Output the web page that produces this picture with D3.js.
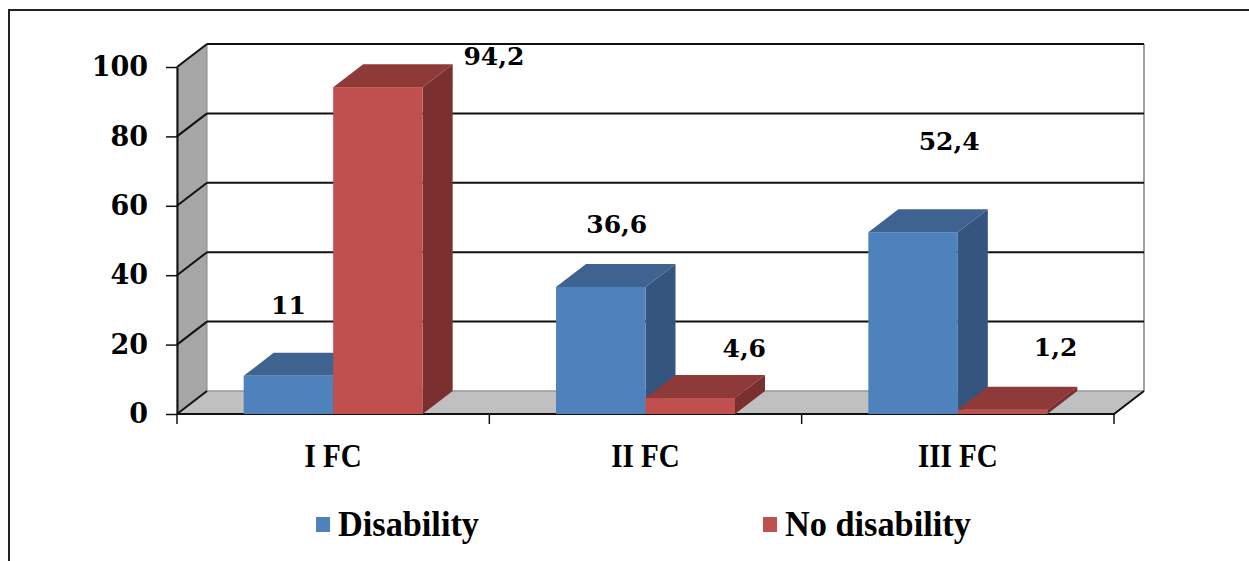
<!DOCTYPE html>
<html>
<head>
<meta charset="utf-8">
<script src="https://cdn.jsdelivr.net/npm/d3@7"></script>
<style>
  body { margin: 0; background: #fff; }
  svg { display: block; }
</style>
</head>
<body>
<div id="chart"></div>
<script>
// Data
const categories = ["I FC", "II FC", "III FC"];
const seriesNames = ["Disability", "No disability"];
const disability = [11, 36.6, 52.4];
const noDisability = [94.2, 4.6, 1.2];
const valueLabels = [["11", "36,6", "52,4"], ["94,2", "4,6", "1,2"]];
const yTicks = [0, 20, 40, 60, 80, 100];

// label nudges (px) relative to bar front-top centre: [series][category]
const labelNudge = [
    [[0, -62], [16, -54], [36, -82]],
    [[116, -22], [54, -41], [53, -54]]
];

const W = 1249, H = 561;
const depth = {dx: 30, dy: -23};
const colors = [
    {front: "#4f81bd", top: "#3e6391", side: "#34557e"},
    {front: "#c0504d", top: "#8e3a38", side: "#7a302f"}
];

const svg = d3.select("#chart").append("svg")
    .attr("width", W).attr("height", H);

// outer frame (top + left only)
svg.append("path")
    .attr("d", "M9,561 L9,10 L1249,10")
    .attr("fill", "none").attr("stroke", "#222").attr("stroke-width", 2);

const x = d3.scaleBand().domain(categories).range([177, 1114]).padding(0);
const xs = d3.scaleBand().domain(seriesNames).range([0, x.bandwidth()]).paddingInner(0).paddingOuter(0.745);
const y = d3.scaleLinear().domain([0, 100]).range([414, 67]);

const x0 = x.range()[0], x1 = x.range()[1];
const y0 = y(0), yTop = y(100);

// left side wall
svg.append("polygon")
    .attr("points", [[x0, y0], [x0, yTop], [x0 + depth.dx, yTop + depth.dy], [x0 + depth.dx, y0 + depth.dy]].join(" "))
    .attr("fill", "#a6a6a6").attr("stroke", "#888").attr("stroke-width", 1);

// floor
svg.append("polygon")
    .attr("points", [[x0, y0], [x1, y0], [x1 + depth.dx, y0 + depth.dy], [x0 + depth.dx, y0 + depth.dy]].join(" "))
    .attr("fill", "#c0c0c0");
svg.append("line")
    .attr("x1", x0 + depth.dx).attr("x2", x1 + depth.dx)
    .attr("y1", y0 + depth.dy).attr("y2", y0 + depth.dy)
    .attr("stroke", "#999").attr("stroke-width", 1.5);

// back wall right edge
svg.append("line")
    .attr("x1", x1 + depth.dx).attr("x2", x1 + depth.dx)
    .attr("y1", yTop + depth.dy).attr("y2", y0 + depth.dy)
    .attr("stroke", "#a0a0a0").attr("stroke-width", 2);

// gridlines on back wall and side wall
const grid = svg.append("g");
grid.selectAll("line.back")
    .data(yTicks.filter(d => d > 0))
    .enter().append("line")
    .attr("class", "back")
    .attr("x1", x0 + depth.dx).attr("x2", x1 + depth.dx)
    .attr("y1", d => y(d) + depth.dy).attr("y2", d => y(d) + depth.dy)
    .attr("stroke", "#111").attr("stroke-width", 2);
grid.selectAll("line.side")
    .data(yTicks)
    .enter().append("line")
    .attr("class", "side")
    .attr("x1", x0).attr("x2", x0 + depth.dx)
    .attr("y1", d => y(d)).attr("y2", d => y(d) + depth.dy)
    .attr("stroke", "#111").attr("stroke-width", 2);

// floor front edge + right diagonal
svg.append("path")
    .attr("d", `M${x0},${y0} L${x1},${y0} L${x1 + depth.dx},${y0 + depth.dy}`)
    .attr("fill", "none").attr("stroke", "#111").attr("stroke-width", 2);

// Y axis
const yAxis = svg.append("g")
    .attr("transform", `translate(${x0},0)`)
    .call(d3.axisLeft(y).tickValues(yTicks).tickSize(11).tickSizeOuter(0).tickPadding(18));
yAxis.select(".domain").attr("stroke", "#111").attr("stroke-width", 2);
yAxis.selectAll(".tick line").attr("stroke", "#111").attr("stroke-width", 1.5);
yAxis.selectAll(".tick text")
    .attr("font-family", "DejaVu Serif")
    .attr("font-weight", "bold")
    .attr("font-size", 27)
    .attr("fill", "#000");

// X axis ticks at band edges
const xEdges = categories.map(c => x(c)).concat([x1]);
svg.append("g").selectAll("line")
    .data(xEdges)
    .enter().append("line")
    .attr("x1", d => d).attr("x2", d => d)
    .attr("y1", y0).attr("y2", y0 + 10)
    .attr("stroke", "#111").attr("stroke-width", 1.5);

svg.append("g").selectAll("text")
    .data(categories)
    .enter().append("text")
    .attr("transform", d => `translate(${x(d) + x.bandwidth() / 2},467) scale(0.88,1)`)
    .attr("text-anchor", "middle")
    .attr("font-family", "Liberation Serif")
    .attr("font-weight", "bold")
    .attr("font-size", 33)
    .text(d => d);

// Bars (3D)
const seriesValues = [disability, noDisability];
const bars = svg.append("g");
categories.forEach((cat, ci) => {
    seriesValues.forEach((vals, si) => {
        const v = vals[ci];
        const bx = x(cat) + xs(seriesNames[si]);
        const bw = xs.bandwidth();
        const by = y(v);
        const c = colors[si];
        // side
        bars.append("polygon")
            .attr("points", [[bx + bw, y0], [bx + bw, by], [bx + bw + depth.dx, by + depth.dy], [bx + bw + depth.dx, y0 + depth.dy]].join(" "))
            .attr("fill", c.side);
        // top
        bars.append("polygon")
            .attr("points", [[bx, by], [bx + bw, by], [bx + bw + depth.dx, by + depth.dy], [bx + depth.dx, by + depth.dy]].join(" "))
            .attr("fill", c.top);
        // front
        bars.append("rect")
            .attr("x", bx).attr("y", by)
            .attr("width", bw).attr("height", y0 - by)
            .attr("fill", c.front);
    });
});

// Value labels
const labels = svg.append("g");
seriesValues.forEach((vals, si) => {
    vals.forEach((v, ci) => {
        const cx = x(categories[ci]) + xs(seriesNames[si]) + xs.bandwidth() / 2;
        labels.append("text")
            .attr("x", cx + labelNudge[si][ci][0])
            .attr("y", y(v) + labelNudge[si][ci][1])
            .attr("text-anchor", "middle")
            .attr("font-family", "DejaVu Serif")
            .attr("font-weight", "bold")
            .attr("font-size", 25)
            .attr("fill", "#000")
            .text(valueLabels[si][ci]);
    });
});

// Legend
const legendX = [316, 763];
const legend = svg.append("g");
seriesNames.forEach((name, i) => {
    const g = legend.append("g").attr("transform", `translate(${legendX[i]},517)`);
    g.append("rect").attr("width", 14).attr("height", 15).attr("fill", colors[i].front);
    g.append("text")
        .attr("transform", "translate(22,19) scale(0.98,1)")
        .attr("font-family", "Liberation Serif")
        .attr("font-weight", "bold")
        .attr("font-size", 35)
        .text(name);
});
</script>
</body>
</html>
